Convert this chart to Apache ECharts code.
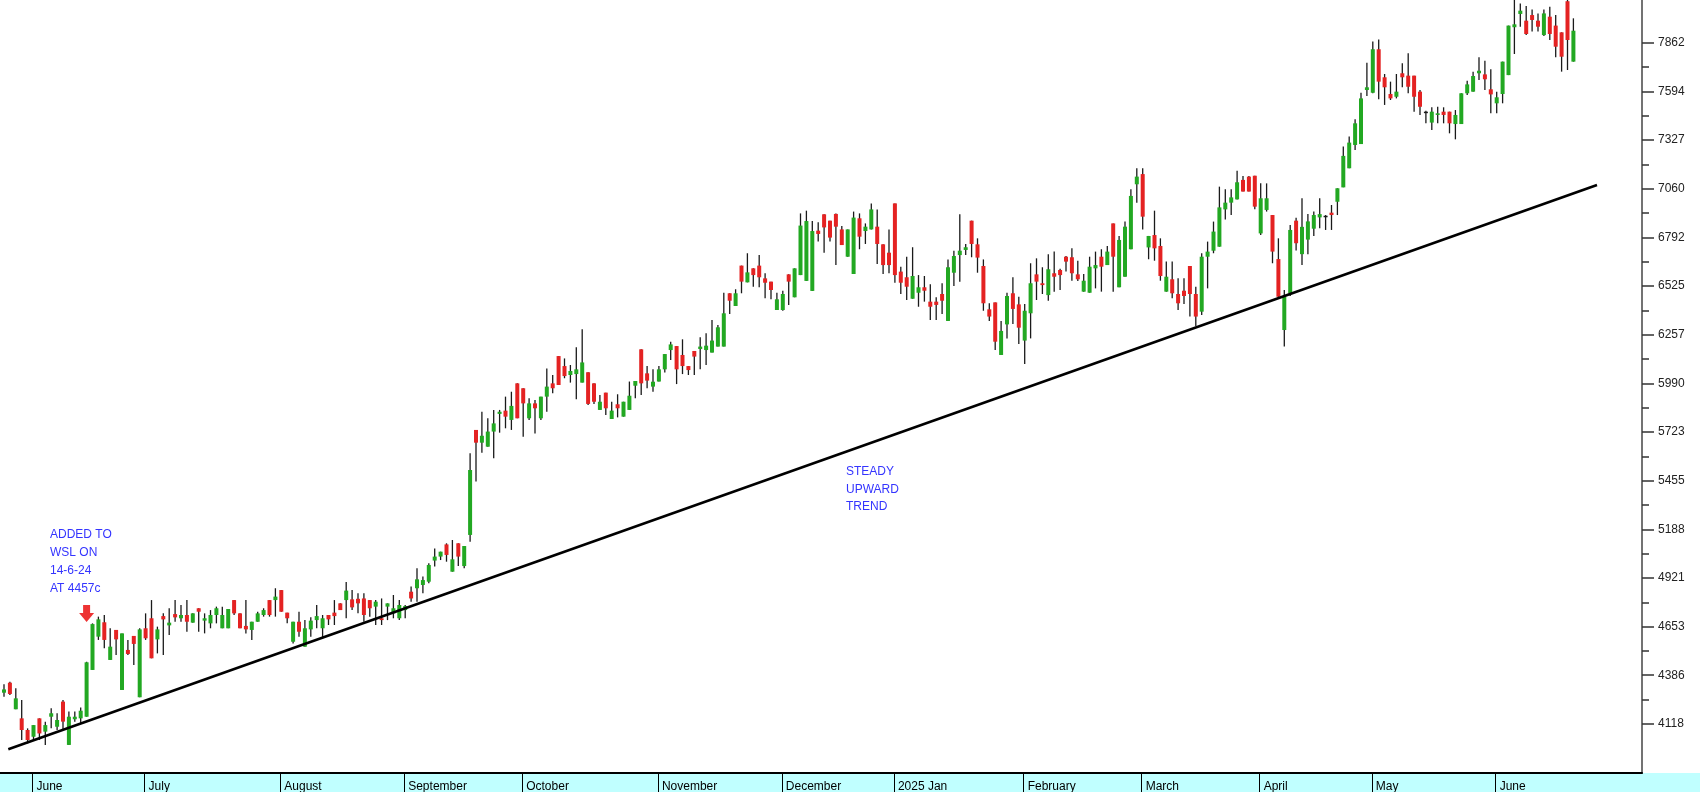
<!DOCTYPE html>
<html>
<head>
<meta charset="utf-8">
<script src="https://cdn.jsdelivr.net/npm/echarts@6/dist/echarts.min.js"></script>
<style>
html,body{margin:0;padding:0;background:#fff;}
#chart{width:1700px;height:792px;}
</style>
</head>
<body>
<div id="chart"></div>
<script>
// ---------- DATA ----------
const startDate = '2024-05-24';
const holidays = ['2024-05-29','2024-06-17','2024-08-09','2024-09-24','2024-12-16','2024-12-25','2024-12-26',
  '2025-01-01','2025-03-21','2025-04-18','2025-04-21','2025-04-28','2025-05-01','2025-06-16'];
const monthLabels = ['June','July','August','September','October','November','December','2025 Jan',
  'February','March','April','May','June'];
const yTickLabels = [4118,4386,4653,4921,5188,5455,5723,5990,6257,6525,6792,7060,7327,7594,7862];

const opens = [
4290,4345,4199,4149,4085,4048,4149,4076,4158,4103,4241,4003,4144,4149,4158,4415,4598,4677,4470,4635,
4305,4525,4602,4265,4644,4699,4583,4711,4660,4722,4699,4717,4675,4754,4686,4671,4717,4644,4644,4799,
4726,4657,4635,4680,4717,4799,4799,4854,4730,4570,4680,4543,4638,4689,4644,4717,4730,4781,4799,4803,
4806,4808,4799,4763,4699,4763,4726,4699,4744,4845,4864,4882,4900,5016,5038,5105,4955,5111,4986,5157,
5734,5664,5642,5725,5822,5840,5789,5990,5963,5798,5880,5798,5917,5990,6140,6085,6036,6041,5994,6051,
5990,5844,5939,5794,5875,5807,5844,5977,6177,6045,5972,6000,6067,6173,6195,6146,6085,6168,6179,6173,
6159,6192,6192,6485,6415,6637,6545,6622,6637,6567,6549,6393,6393,6589,6463,6585,6553,6498,6829,6919,
6884,6921,6836,6686,6591,6897,6827,6836,6851,6754,6708,6979,6604,6573,6455,6488,6518,6439,6439,6481,
6333,6598,6695,6723,6884,6754,6635,6397,6435,6146,6314,6485,6424,6225,6375,6589,6540,6475,6595,6613,
6686,6683,6589,6494,6488,6622,6686,6640,6869,6518,6576,6727,7084,7140,6737,6805,6745,6494,6562,6481,
6499,6635,6481,6384,6686,6719,6741,6946,6983,7001,7108,7126,7131,6814,6943,6915,6673,6283,6485,6884,
6700,6780,6840,6902,6911,6928,6988,7067,7172,7300,7305,7602,7587,7826,7672,7580,7565,7694,7681,7681,
7593,7483,7423,7465,7483,7483,7415,7415,7584,7593,7694,7688,7606,7529,7580,7684,7947,8020,7983,8014,
7983,7904,8005,7956,7919,8090,7758
];
const highs = [
4336,4350,4314,4250,4094,4112,4149,4131,4204,4177,4250,4186,4186,4209,4460,4671,4708,4717,4644,4635,
4616,4580,4602,4644,4726,4799,4653,4726,4754,4799,4772,4799,4726,4754,4726,4744,4763,4763,4750,4799,
4726,4799,4680,4735,4754,4799,4864,4854,4730,4680,4735,4689,4704,4772,4717,4717,4799,4781,4898,4854,
4836,4836,4799,4799,4808,4781,4827,4799,4772,4873,4974,4928,5001,5083,5065,5111,5129,5111,5096,5606,
5734,5834,5798,5844,5844,5917,5944,5990,5963,5908,5899,5917,6072,6036,6140,6127,6091,6188,6287,6051,
5990,5926,5939,5889,5930,5889,6000,6003,6177,6085,6067,6085,6151,6219,6195,6232,6085,6168,6243,6265,
6338,6311,6488,6485,6507,6637,6705,6622,6695,6595,6549,6488,6499,6589,6622,6924,6939,6882,6875,6919,
6884,6924,6855,6836,6934,6924,6869,6979,6946,6754,6836,6979,6631,6686,6738,6585,6580,6534,6463,6540,
6671,6719,6919,6756,6884,6787,6671,6430,6435,6333,6488,6573,6466,6426,6650,6677,6628,6699,6714,6620,
6690,6732,6664,6591,6686,6714,6727,6745,6869,6800,6879,7056,7172,7172,6800,6939,6787,6659,6659,6567,
6567,6635,6521,6705,6769,6879,7071,7056,7056,7159,7129,7129,7131,7089,7089,6915,6787,6503,6860,6900,
7007,6920,6934,7007,6915,6970,7062,7291,7346,7441,7587,7752,7868,7880,7690,7648,7690,7749,7804,7681,
7602,7488,7507,7510,7507,7483,7492,7584,7653,7703,7782,7763,7716,7593,7758,7956,8100,8078,8064,8045,
8023,8045,8060,8014,7919,8110,7996
];
const lows = [
4268,4277,4199,4030,4012,4030,4030,4003,4094,4085,4085,4003,4131,4122,4158,4415,4580,4534,4470,4497,
4305,4497,4442,4265,4580,4479,4506,4497,4607,4680,4680,4625,4675,4625,4616,4644,4671,4644,4644,4717,
4644,4616,4580,4680,4708,4708,4708,4735,4671,4561,4598,4543,4598,4644,4589,4662,4662,4744,4699,4744,
4726,4680,4708,4662,4662,4689,4699,4689,4699,4790,4790,4836,4891,4983,5019,5010,4955,4986,4974,5120,
5450,5609,5642,5578,5719,5743,5734,5798,5697,5789,5715,5789,5834,5935,5981,6018,5994,5902,5994,5871,
5877,5844,5816,5794,5803,5807,5844,5908,5926,5963,5944,6000,6049,6118,5986,6041,6036,6036,6067,6091,
6159,6192,6192,6371,6415,6485,6545,6521,6518,6457,6452,6393,6389,6421,6463,6585,6553,6498,6769,6708,
6769,6640,6750,6686,6591,6727,6756,6836,6646,6591,6595,6543,6481,6448,6455,6411,6439,6338,6338,6371,
6333,6525,6549,6695,6683,6598,6389,6333,6173,6146,6237,6316,6206,6096,6237,6448,6481,6444,6494,6503,
6604,6554,6553,6494,6488,6512,6494,6640,6494,6518,6576,6727,6983,6836,6672,6664,6554,6494,6457,6393,
6426,6357,6305,6366,6512,6705,6741,6891,6915,7001,7044,7044,6947,6805,6934,6650,6457,6192,6470,6720,
6640,6700,6800,6842,6833,6833,6915,7067,7172,7272,7305,7569,7584,7551,7520,7547,7556,7617,7584,7483,
7465,7419,7382,7419,7419,7364,7331,7415,7575,7593,7657,7602,7474,7474,7529,7684,7800,7950,7904,7923,
7923,7899,7877,7782,7703,7712,7758
];
const closes = [
4308,4283,4259,4085,4030,4112,4066,4112,4177,4140,4131,4158,4158,4191,4457,4667,4693,4580,4543,4583,
4616,4503,4558,4638,4589,4479,4638,4693,4675,4704,4717,4680,4726,4735,4699,4717,4754,4717,4750,4726,
4644,4638,4680,4726,4744,4717,4818,4735,4699,4680,4625,4644,4686,4711,4699,4693,4711,4744,4851,4759,
4781,4717,4754,4790,4689,4781,4754,4772,4766,4808,4913,4909,4992,5038,5065,5047,5023,5038,5096,5514,
5664,5702,5725,5770,5834,5807,5866,5798,5880,5880,5853,5917,5972,5963,5981,6030,6058,6067,6105,5877,
5889,5889,5853,5840,5853,5889,5922,6003,5990,6005,5999,6067,6151,6204,6067,6085,6063,6137,6192,6197,
6225,6298,6375,6444,6485,6549,6600,6585,6573,6543,6503,6452,6481,6549,6622,6857,6882,6827,6811,6847,
6791,6851,6750,6836,6901,6796,6851,6946,6756,6640,6640,6585,6543,6521,6580,6518,6499,6411,6421,6444,
6628,6690,6719,6738,6756,6681,6430,6357,6219,6278,6470,6399,6296,6389,6540,6549,6530,6617,6576,6585,
6659,6595,6562,6554,6631,6640,6631,6714,6686,6778,6851,7020,7126,6906,6800,6732,6580,6576,6485,6430,
6470,6481,6357,6686,6714,6824,6957,6983,7012,7095,7044,7044,6961,7007,7007,6714,6466,6466,6833,6760,
6850,6880,6915,6920,6911,6915,7062,7240,7313,7419,7556,7617,7826,7648,7617,7556,7593,7672,7620,7565,
7510,7483,7483,7474,7465,7419,7465,7584,7633,7679,7708,7661,7578,7562,7758,7956,7963,8038,7910,7987,
7950,8023,7910,7840,7785,7877,7928
];
// trend line end points: [day index, price]
const trendLine = [[0.73, 3979], [270, 7080]];
// "added" marker: [day index, price]
const addedMarker = [[14, 4725]];

// ---------- BUILD ----------
function ymd(d){ return d.toISOString().slice(0,10); }
const dates = [];
(function(){
  const d = new Date(startDate + 'T00:00:00Z');
  while (dates.length < opens.length) {
    const wd = d.getUTCDay();
    const s = ymd(d);
    if (wd !== 0 && wd !== 6 && holidays.indexOf(s) < 0) dates.push(s);
    d.setUTCDate(d.getUTCDate() + 1);
  }
})();
const monthStarts = [];
for (let i = 1; i < dates.length; i++) {
  if (dates[i].slice(5,7) !== dates[i-1].slice(5,7)) monthStarts.push(i);
}
const sepOffset = -0.17;
const sepValues = monthStarts.map(i => i + sepOffset);
const labelOf = {};
monthStarts.forEach((i, n) => { labelOf[i] = monthLabels[n]; });

const candleData = opens.map((o, i) => [i, o, closes[i], lows[i], highs[i]]);
const minorTicks = [];
for (let i = 0; i < yTickLabels.length - 1; i++) minorTicks.push((yTickLabels[i] + yTickLabels[i+1]) / 2);

const GREEN = '#22a822', RED = '#e42222', WICK = '#1a1a1a';
function renderCandle(params, api) {
  const x = api.value(0), o = api.value(1), c = api.value(2), l = api.value(3), h = api.value(4);
  const pO = api.coord([x, o]), pC = api.coord([x, c]), pL = api.coord([x, l]), pH = api.coord([x, h]);
  const bw = 4;
  const top = Math.min(pO[1], pC[1]), bot = Math.max(pO[1], pC[1]);
  const doji = Math.abs(c - o) < 2;
  const fill = doji ? WICK : (c > o ? GREEN : RED);
  return {
    type: 'group',
    children: [
      { type: 'line', shape: { x1: pH[0], y1: pH[1], x2: pL[0], y2: pL[1] },
        style: { stroke: WICK, lineWidth: 1.3 } },
      { type: 'rect', shape: { x: pO[0] - bw / 2, y: top, width: bw, height: Math.max(bot - top, 1.5) },
        style: { fill: fill } }
    ]
  };
}

const PLOT_RIGHT = 1642, PLOT_BOTTOM = 773, W = 1700, H = 792;
const step = 5.9, x0 = 4;
const xMin = -x0 / step, xMax = (PLOT_RIGHT - x0) / step;
const yMin = 3848.7, yMax = 8096.7;

const chart = echarts.init(document.getElementById('chart'), null, { renderer: 'canvas' });
const option = {
  animation: false,
  backgroundColor: '#ffffff',
  textStyle: { fontFamily: 'Liberation Sans, Arial, sans-serif' },
  grid: { left: 0, right: W - PLOT_RIGHT, top: 0, bottom: H - PLOT_BOTTOM, containLabel: false, outerBoundsMode: 'none' },
  xAxis: [{
    type: 'value', min: xMin, max: xMax, position: 'bottom',
    axisLine: { show: true, onZero: false, lineStyle: { color: '#000', width: 2 } },
    axisTick: { show: true, customValues: sepValues, length: H - PLOT_BOTTOM, inside: false,
      lineStyle: { color: '#000', width: 1 } },
    axisLabel: { show: true, customValues: sepValues, align: 'left', margin: 8,
      padding: [0, 0, 0, 4], color: '#000', fontSize: 12, fontFamily: 'Liberation Sans, Arial, sans-serif',
      formatter: v => labelOf[Math.round(v - sepOffset)] || '' },
    splitLine: { show: false }
  }],
  yAxis: [{
    type: 'value', position: 'right', min: yMin, max: yMax,
    axisLine: { show: true, onZero: false, lineStyle: { color: '#444', width: 1.5 } },
    axisTick: { show: true, customValues: yTickLabels, length: 12, inside: false,
      lineStyle: { color: '#333', width: 1.5 } },
    axisLabel: { show: true, customValues: yTickLabels, margin: 16, color: '#222', fontSize: 12,
      fontFamily: 'Liberation Sans, Arial, sans-serif', formatter: v => String(Math.round(v)) },
    splitLine: { show: false }
  }, {
    type: 'value', position: 'right', min: yMin, max: yMax,
    axisLine: { show: false, onZero: false },
    axisTick: { show: true, customValues: minorTicks, length: 7, inside: false,
      lineStyle: { color: '#333', width: 1.5 } },
    axisLabel: { show: false },
    splitLine: { show: false }
  }],
  graphic: [
    { type: 'rect', z: -10, silent: true, shape: { x: 0, y: PLOT_BOTTOM, width: W, height: H - PLOT_BOTTOM },
      style: { fill: '#c0ffff' } },
    { type: 'text', left: 50, top: 526, silent: true, z: 10,
      style: { text: 'ADDED TO\nWSL ON\n14-6-24\nAT 4457c', fill: '#3434ff', fontSize: 12, lineHeight: 18,
        fontFamily: 'Liberation Sans, Arial, sans-serif' } },
    { type: 'text', left: 846, top: 463, silent: true, z: 10,
      style: { text: 'STEADY\nUPWARD\nTREND', fill: '#3434ff', fontSize: 12, lineHeight: 17.5,
        fontFamily: 'Liberation Sans, Arial, sans-serif' } }
  ],
  series: [{
    type: 'custom', name: 'price', renderItem: renderCandle, clip: true,
    encode: { x: 0, y: [1, 2, 3, 4] }, data: candleData, z: 2
  }, {
    type: 'line', name: 'trend', data: trendLine, symbol: 'none', silent: true, z: 5,
    lineStyle: { color: '#000', width: 2.6 }
  }, {
    type: 'scatter', name: 'added', data: addedMarker, silent: true, z: 6,
    symbol: 'path://M4,0 L11,0 L11,8 L15,8 L7.5,17 L0,8 L4,8 Z', symbolSize: [15, 17],
    itemStyle: { color: '#e80000' }
  }]
};
chart.setOption(option);
</script>
</body>
</html>
